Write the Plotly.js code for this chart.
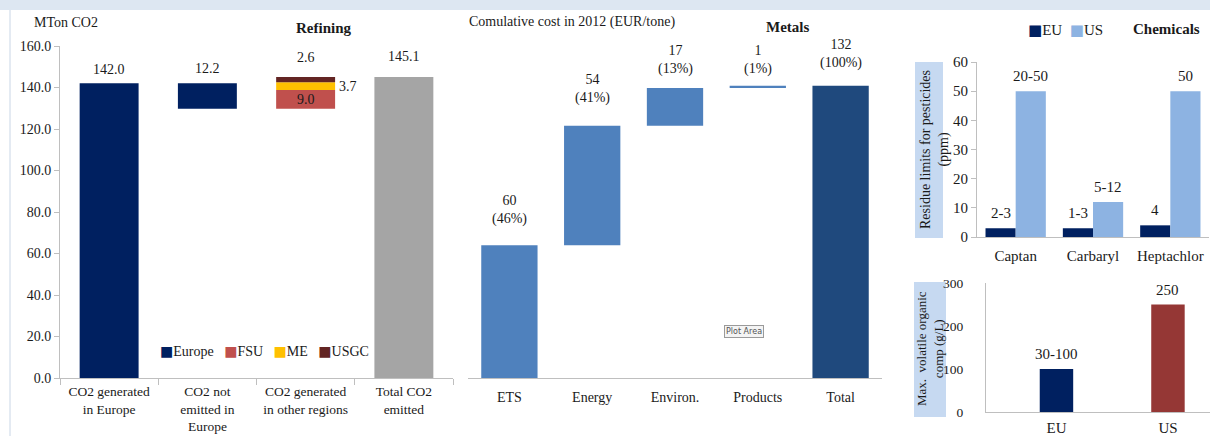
<!DOCTYPE html>
<html>
<head>
<meta charset="utf-8">
<script src="https://cdn.plot.ly/plotly-3.0.1.min.js"></script>
<style>html,body{margin:0;padding:0;background:#fff;}#chart{width:1210px;height:436px;}</style>
</head>
<body>
<div id="chart"></div>
<script>
// ---------- DATA ----------
// Refining (MTon CO2)
const refCategories = ["CO2 generated<br>in Europe", "CO2 not<br>emitted in<br>Europe", "CO2 generated<br>in other regions", "Total CO2<br>emitted"];
const europeGenerated = 142.0;
const europeNotEmitted = 12.2;
const otherRegionNames = ["FSU", "ME", "USGC"];
const otherRegionValues = [9.0, 3.7, 2.6];
const totalEmitted = 145.1;

// Metals (cumulative cost in 2012, EUR/tone)
const metalsCategories = ["ETS", "Energy", "Environ.", "Products", "Total"];
const metalsValues = [60, 54, 17, 1, 132];
const metalsPct = ["46%", "41%", "13%", "1%", "100%"];
const metalsIsTotal = [false, false, false, false, true];

// Chemicals: residue limits for pesticides (ppm)
const chemCategories = ["Captan", "Carbaryl", "Heptachlor"];
const chemEU = [3, 3, 4];
const chemUS = [50, 12, 50];
const chemEULabels = ["2-3", "1-3", "4"];
const chemUSLabels = ["20-50", "5-12", "50"];

// Chemicals: max volatile organic comp (g/L)
const vocCategories = ["EU", "US"];
const vocValues = [100, 250];
const vocLabels = ["30-100", "250"];

// ---------- STYLE ----------
const SERIF = "Liberation Serif, Times New Roman, serif";
const TXT = "#1a1a1a";
const AX = "#bfbfbf";
const W = 1210, H = 436;
const px = v => v / W;
const py = v => 1 - v / H;

const regionColors = {Europe: "#002060", FSU: "#c0504d", ME: "#ffc000", USGC: "#632523"};
const totalGray = "#a5a5a5";
const metalsColor = "#4f81bd", metalsTotalColor = "#1f497d";
const euColor = "#002060", usColor = "#8db3e2", vocColors = ["#002060", "#953735"];

// ---------- TRACES ----------
const traces = [];
const notEmittedBase = europeGenerated - europeNotEmitted;
traces.push({
  type: "bar", x: [refCategories[0], refCategories[1]], y: [europeGenerated, europeNotEmitted],
  base: [0, notEmittedBase], width: 0.6, marker: {color: regionColors.Europe},
  xaxis: "x", yaxis: "y", name: "Europe", hoverinfo: "skip"
});
let cum = notEmittedBase;
const regionBases = [];
otherRegionNames.forEach((n, i) => {
  regionBases.push(cum);
  traces.push({
    type: "bar", x: [refCategories[2]], y: [otherRegionValues[i]], base: [cum], width: 0.6,
    marker: {color: regionColors[n]}, xaxis: "x", yaxis: "y", name: n, hoverinfo: "skip"
  });
  cum += otherRegionValues[i];
});
traces.push({
  type: "bar", x: [refCategories[3]], y: [totalEmitted], base: [0], width: 0.6,
  marker: {color: totalGray}, xaxis: "x", yaxis: "y", name: "Total", hoverinfo: "skip"
});

// Metals waterfall
const metalsBase = [];
let run = 0;
metalsValues.forEach((v, i) => {
  if (metalsIsTotal[i]) { metalsBase.push(0); } else { metalsBase.push(run); run += v; }
});
traces.push({
  type: "bar", x: metalsCategories, y: metalsValues, base: metalsBase, width: 0.68,
  marker: {color: metalsIsTotal.map(t => t ? metalsTotalColor : metalsColor)},
  xaxis: "x2", yaxis: "y2", name: "Metals", hoverinfo: "skip"
});

// Chemicals grouped
traces.push({
  type: "bar", x: chemCategories, y: chemEU, offset: -0.39, width: 0.39,
  marker: {color: euColor}, xaxis: "x3", yaxis: "y3", name: "EU", hoverinfo: "skip"
});
traces.push({
  type: "bar", x: chemCategories, y: chemUS, offset: 0, width: 0.39,
  marker: {color: usColor}, xaxis: "x3", yaxis: "y3", name: "US", hoverinfo: "skip"
});

// VOC
traces.push({
  type: "bar", x: vocCategories, y: vocValues, width: 0.3,
  marker: {color: vocColors}, xaxis: "x4", yaxis: "y4", name: "VOC", hoverinfo: "skip"
});

// ---------- ANNOTATIONS ----------
const ann = [];
const f = (size) => ({family: SERIF, size: size, color: TXT});

// titles
ann.push({xref: "paper", yref: "paper", x: px(32), y: py(22), xanchor: "left", yanchor: "middle", text: "MTon CO2", showarrow: false, font: f(14)});
ann.push({xref: "paper", yref: "paper", x: px(324), y: py(28), xanchor: "center", yanchor: "middle", text: "<b>Refining</b>", showarrow: false, font: f(15)});
ann.push({xref: "paper", yref: "paper", x: px(467), y: py(22), xanchor: "left", yanchor: "middle", text: "Comulative cost in 2012 (EUR/tone)", showarrow: false, font: f(14)});
ann.push({xref: "paper", yref: "paper", x: px(787), y: py(27), xanchor: "center", yanchor: "middle", text: "<b>Metals</b>", showarrow: false, font: f(15)});
ann.push({xref: "paper", yref: "paper", x: px(1166), y: py(29), xanchor: "center", yanchor: "middle", text: "<b>Chemicals</b>", showarrow: false, font: f(15)});

// legends (drawn as text)
const sq = c => `<span style="color:${c};font-family:DejaVu Sans">■</span>`;
ann.push({xref: "paper", yref: "paper", x: px(158), y: py(351), xanchor: "left", yanchor: "middle", showarrow: false, font: f(14),
  text: ["Europe"].concat(otherRegionNames).map(n => sq(regionColors[n]) + n).join("&nbsp;&nbsp;&nbsp;")});
ann.push({xref: "paper", yref: "paper", x: px(1026), y: py(30), xanchor: "left", yanchor: "middle", showarrow: false, font: f(15),
  text: sq(euColor) + "EU&nbsp;&nbsp;" + sq(usColor) + "US"});

// Refining labels
const refTops = [europeGenerated, europeGenerated, totalEmitted, totalEmitted];
const refTexts = [europeGenerated.toFixed(1), europeNotEmitted.toFixed(1), otherRegionValues[2].toFixed(1), totalEmitted.toFixed(1)];
const refShift = [4, 5, 10, 11];
refTexts.forEach((t, i) => ann.push({xref: "x", yref: "y", x: refCategories[i], y: refTops[i], yanchor: "bottom", yshift: refShift[i], text: t, showarrow: false, font: f(14)}));
ann.push({xref: "x", yref: "y", x: 2.3, y: regionBases[1] + otherRegionValues[1] / 2, xanchor: "left", yanchor: "middle", xshift: 2, text: otherRegionValues[1].toFixed(1), showarrow: false, font: f(14)});
ann.push({xref: "x", yref: "y", x: 2, y: regionBases[0] + otherRegionValues[0] / 2, xanchor: "center", yanchor: "middle", text: otherRegionValues[0].toFixed(1), showarrow: false, font: f(14)});

// Metals labels
const metShift = [16, 18, 9, 7, 13];
metalsValues.forEach((v, i) => ann.push({xref: "x2", yref: "y2", x: metalsCategories[i], y: metalsBase[i] + v, yanchor: "bottom", yshift: metShift[i],
  text: `${v}<br>(${metalsPct[i]})`, showarrow: false, font: f(14)}));

// Plot Area tooltip artifact
ann.push({xref: "paper", yref: "paper", x: px(744), y: py(331), xanchor: "center", yanchor: "middle", text: "Plot Area", showarrow: false,
  font: {family: "DejaVu Sans", size: 8, color: "#555"}, bgcolor: "#f4f4f4", bordercolor: "#9a9a9a", borderwidth: 1, borderpad: 1});

// Chem labels
chemCategories.forEach((c, i) => {
  ann.push({xref: "x3", yref: "y3", x: i - 0.195, y: chemEU[i], yanchor: "bottom", yshift: 5, text: chemEULabels[i], showarrow: false, font: f(15)});
  ann.push({xref: "x3", yref: "y3", x: i + 0.195, y: chemUS[i], yanchor: "bottom", yshift: 5, text: chemUSLabels[i], showarrow: false, font: f(15)});
});
vocCategories.forEach((c, i) => ann.push({xref: "x4", yref: "y4", x: c, y: vocValues[i], yanchor: "bottom", yshift: 5, text: vocLabels[i], showarrow: false, font: f(15)}));

// y titles on blue boxes
ann.push({xref: "paper", yref: "paper", x: px(935), y: py(150), xanchor: "center", yanchor: "middle", textangle: -90, showarrow: false,
  text: "Residue limits for pesticides<br>(ppm)", font: f(14)});
ann.push({xref: "paper", yref: "paper", x: px(930), y: py(349), xanchor: "center", yanchor: "middle", textangle: -90, showarrow: false,
  text: "Max.  volatile organic<br>comp (g/L)", font: f(13)});

// ---------- SHAPES ----------
const shapes = [
  {type: "rect", xref: "paper", yref: "paper", x0: 0, x1: 1, y0: py(10), y1: 1, fillcolor: "#dde7f2", line: {width: 0}, layer: "below"},
  {type: "line", xref: "paper", yref: "paper", x0: px(10), x1: px(10), y0: 0, y1: py(10), line: {color: "#c9d6e6", width: 1}},
  {type: "rect", xref: "paper", yref: "paper", x0: px(915), x1: px(943), y0: py(238), y1: py(62), fillcolor: "#c6d9f1", line: {width: 0}, layer: "below"},
  {type: "rect", xref: "paper", yref: "paper", x0: px(914), x1: px(946), y0: py(417), y1: py(282), fillcolor: "#c6d9f1", line: {width: 0}, layer: "below"}
];

// ---------- AXES ----------
const baseAx = {showgrid: false, zeroline: false, fixedrange: true, linecolor: AX, tickcolor: AX, tickfont: {family: SERIF, size: 14, color: TXT}};
const f15 = {family: SERIF, size: 15, color: TXT};

const layout = {
  width: W, height: H, margin: {l: 0, r: 0, t: 0, b: 0},
  paper_bgcolor: "#ffffff", plot_bgcolor: "rgba(0,0,0,0)",
  barmode: "overlay", showlegend: false,
  font: {family: SERIF, size: 14, color: TXT},
  xaxis: Object.assign({}, baseAx, {domain: [px(60), px(453)], type: "category", range: [-0.5, 3.5], showline: true, ticks: "outside", tickson: "boundaries", ticklen: 6, anchor: "y", ticklabelstandoff: 1, tickfont: {family: SERIF, size: 13.5, color: TXT}}),
  yaxis: Object.assign({}, baseAx, {domain: [py(378), py(46)], range: [0, 160], dtick: 20, tickformat: ".1f", showline: true, ticks: "outside", ticklen: 5, anchor: "x"}),
  xaxis2: Object.assign({}, baseAx, {domain: [px(468), px(882)], type: "category", range: [-0.5, 4.5], showline: true, ticks: "", anchor: "y2", ticklabelstandoff: 6}),
  yaxis2: Object.assign({}, baseAx, {domain: [py(378), py(46)], range: [0, 150], visible: false, anchor: "x2"}),
  xaxis3: Object.assign({}, baseAx, {domain: [px(977), px(1209)], type: "category", range: [-0.5, 2.5], showline: true, ticks: "", anchor: "y3", ticklabelstandoff: 5, tickfont: f15}),
  yaxis3: Object.assign({}, baseAx, {domain: [py(237), py(62)], range: [0, 60], dtick: 10, showline: true, ticks: "outside", ticklen: 5, anchor: "x3", tickfont: f15}),
  xaxis4: Object.assign({}, baseAx, {domain: [px(986), 1], type: "category", range: [-0.632, 1.377], showline: true, ticks: "", anchor: "y4", ticklabelstandoff: 2, tickfont: f15}),
  yaxis4: Object.assign({}, baseAx, {domain: [py(412), py(283)], range: [0, 300], dtick: 100, showline: true, ticks: "", anchor: "x4", ticklabelstandoff: 19, tickfont: {family: SERIF, size: 13.5, color: TXT}}),
  annotations: ann,
  shapes: shapes
};

Plotly.newPlot("chart", traces, layout, {displayModeBar: false, staticPlot: true});
</script>
</body>
</html>
